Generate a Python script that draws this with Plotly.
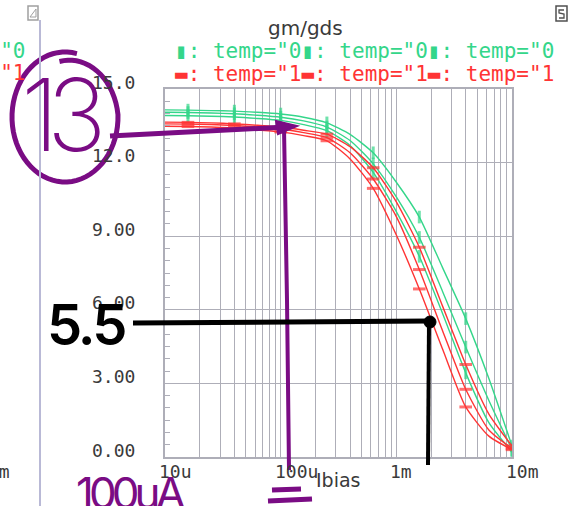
import math
import plotly.graph_objects as go

# ---- sweep data: gm/gds versus bias current, two temperatures x three corners ----
ibias = [10e-6, 15.8e-6, 25.1e-6, 39.8e-6, 63.1e-6, 100e-6, 158e-6, 251e-6,
         398e-6, 631e-6, 1.0e-3, 1.58e-3, 2.51e-3, 3.98e-3, 6.31e-3, 10e-3]

gm_gds_t0_a = [14.15, 14.14, 14.12, 14.10, 14.05, 13.98, 13.85, 13.62,
               13.15, 12.40, 11.20, 9.78, 7.72, 5.64, 3.20, 0.45]
gm_gds_t0_b = [14.05, 14.04, 14.02, 13.99, 13.93, 13.85, 13.70, 13.45,
               12.90, 11.95, 10.60, 8.95, 6.75, 4.48, 2.30, 0.30]
gm_gds_t0_c = [13.92, 13.91, 13.89, 13.86, 13.80, 13.72, 13.55, 13.30,
               12.70, 11.60, 10.00, 8.18, 5.85, 3.43, 1.40, 0.20]
gm_gds_t1_a = [13.65, 13.64, 13.62, 13.58, 13.52, 13.45, 13.32, 13.16,
               12.65, 11.79, 10.40, 8.55, 6.15, 3.77, 1.75, 0.45]
gm_gds_t1_b = [13.58, 13.57, 13.55, 13.51, 13.45, 13.38, 13.22, 13.02,
               12.40, 11.33, 9.80, 7.64, 5.15, 2.76, 1.10, 0.35]
gm_gds_t1_c = [13.48, 13.47, 13.45, 13.40, 13.33, 13.25, 13.10, 12.89,
               12.15, 10.95, 9.05, 6.85, 4.40, 2.04, 0.85, 0.30]

y_ticks = [0, 3, 6, 9, 12, 15]
y_tick_labels = ["0.00", "3.00", "6.00", "9.00", "12.0", "15.0"]
x_ticks = [10e-6, 100e-6, 1e-3, 10e-3]
x_tick_labels = ["10u", "100u", "1m", "10m"]

legend_row_t0 = '▮: temp="0▮: temp="0▮: temp="0'
legend_row_t1 = '▬: temp="1▬: temp="1▬: temp="1'

# ---- styling ----
W, H = 571, 506
L, R, T, B = 165, 512, 89, 457          # plot frame in page pixels
GREEN = "#34d68a"
RED = "#ff3434"
GRID = "#aeaeb8"
TXT = "#3a3a3a"
PURPLE = "#7a0c84"
MONO = "DejaVu Sans Mono"
SANS = "DejaVu Sans"
HAND = "Inter"


def px(x, y):
    """page pixel -> paper coordinates"""
    return (x - L) / (R - L), (B - y) / (B - T)


def poly(points, close=False):
    s = ""
    for i, (x, y) in enumerate(points):
        u, v = px(x, y)
        s += ("M" if i == 0 else "L") + f"{u:.5f},{v:.5f}"
    return s + ("Z" if close else "")


def squeezed(text, spacing):
    return f'<span style="letter-spacing:{spacing}px">{text}</span>'


fig = go.Figure()

marker_sizes = [9 if i % 2 else 0 for i in range(len(ibias))]
series = [
    (gm_gds_t0_a, GREEN, "line-ns"),
    (gm_gds_t0_b, GREEN, "line-ns"),
    (gm_gds_t0_c, GREEN, "line-ns"),
    (gm_gds_t1_a, RED, "line-ew"),
    (gm_gds_t1_b, RED, "line-ew"),
    (gm_gds_t1_c, RED, "line-ew"),
]
for vals, col, sym in series:
    fig.add_trace(go.Scatter(
        x=ibias, y=vals, mode="lines+markers", showlegend=False,
        line=dict(color=col, width=1.4, shape="spline", smoothing=0.6),
        marker=dict(symbol=sym, size=marker_sizes, color=col,
                    line=dict(color=col, width=3)),
    ))

ann = []
# y tick labels
for v, lab in zip(y_ticks, y_tick_labels):
    ann.append(dict(x=px(137, 0)[0], xref="paper", y=v, yref="y", text=lab,
                    showarrow=False, xanchor="right", yanchor="middle", yshift=7,
                    font=dict(family=MONO, size=18, color=TXT)))
# x tick labels (left aligned just before the tick)
for v, lab in zip(x_ticks, x_tick_labels):
    ann.append(dict(x=math.log10(v), xref="x", y=px(0, 471)[1], yref="paper",
                    text=lab, showarrow=False, xanchor="left", xshift=-8,
                    yanchor="middle", font=dict(family=MONO, size=18, color=TXT)))
# titles
ann.append(dict(x=px(305, 0)[0], y=px(0, 14)[1], xref="paper", yref="paper",
                text="gm/gds", showarrow=False, font=dict(family=SANS, size=20, color=TXT)))
ann.append(dict(x=px(338, 0)[0], y=px(0, 493)[1], xref="paper", yref="paper",
                text="Ibias", showarrow=False, font=dict(family=SANS, size=19, color=TXT)))
# legend rows
ann.append(dict(x=px(173, 0)[0], y=px(0, 51)[1], xref="paper", yref="paper",
                text=legend_row_t0, showarrow=False, xanchor="left", yanchor="middle",
                font=dict(family=MONO, size=21, color=GREEN)))
ann.append(dict(x=px(173, 0)[0], y=px(0, 74)[1], xref="paper", yref="paper",
                text=legend_row_t1, showarrow=False, xanchor="left", yanchor="middle",
                font=dict(family=MONO, size=21, color=RED)))
# neighbouring panel remnants on the left edge
ann.append(dict(x=px(28, 0)[0], y=px(0, 51)[1], xref="paper", yref="paper",
                text='temp="0', showarrow=False, xanchor="right", yanchor="middle",
                font=dict(family=MONO, size=21, color=GREEN)))
ann.append(dict(x=px(28, 0)[0], y=px(0, 73)[1], xref="paper", yref="paper",
                text='temp="1', showarrow=False, xanchor="right", yanchor="middle",
                font=dict(family=MONO, size=21, color=RED)))
ann.append(dict(x=px(12, 0)[0], y=px(0, 471)[1], xref="paper", yref="paper",
                text="10m", showarrow=False, xanchor="right", yanchor="middle",
                font=dict(family=MONO, size=18, color=TXT)))
# handwritten notes
ann.append(dict(x=px(60, 0)[0], y=px(0, 114)[1], xref="paper", yref="paper",
                text=squeezed("13", -12), showarrow=False, xanchor="center", yanchor="middle",
                font=dict(family=HAND, size=100, color=PURPLE, weight=200)))
ann.append(dict(x=px(86, 0)[0], y=px(0, 325)[1], xref="paper", yref="paper",
                text=squeezed("5.5", -3), showarrow=False, xanchor="center", yanchor="middle",
                font=dict(family=HAND, size=56, color="black", weight=600)))
ann.append(dict(x=px(74, 0)[0], y=px(0, 464)[1], xref="paper", yref="paper",
                text=squeezed("100uA", -5), showarrow=False, xanchor="left", yanchor="top",
                font=dict(family=HAND, size=44, color=PURPLE, weight=400)))

shapes = []
# circle around the 13 (drawn as a slightly overlapping loop)
cx, cy, rx, ry = 65, 117, 53, 65
loop = []
for k in range(73):
    t = k / 72.0
    th = math.radians(97 - 380 * t)
    r = 0.86 + 0.14 * min(1.0, t * 4)
    loop.append((cx + rx * r * math.cos(th), cy - ry * r * math.sin(th)))
shapes.append(dict(type="path", xref="paper", yref="paper", path=poly(loop),
                   line=dict(color=PURPLE, width=5)))
# purple pointer to the curve at 100u and drop line
shapes.append(dict(type="path", xref="paper", yref="paper",
                   path=poly([(110, 136), (286, 127)]), line=dict(color=PURPLE, width=5)))
shapes.append(dict(type="path", xref="paper", yref="paper",
                   path=poly([(276, 121), (297, 126), (278, 134)], close=True),
                   fillcolor=PURPLE, line=dict(color=PURPLE, width=2)))
shapes.append(dict(type="path", xref="paper", yref="paper",
                   path=poly([(284, 128), (287, 300), (289, 470)]), line=dict(color=PURPLE, width=4)))
shapes.append(dict(type="path", xref="paper", yref="paper",
                   path=poly([(272, 490), (301, 489)]), line=dict(color=PURPLE, width=5)))
shapes.append(dict(type="path", xref="paper", yref="paper",
                   path=poly([(268, 501), (312, 499)]), line=dict(color=PURPLE, width=5)))
# black marker line for the 5.5 reading
shapes.append(dict(type="path", xref="paper", yref="paper",
                   path=poly([(133, 323), (430, 321)]), line=dict(color="black", width=5)))
shapes.append(dict(type="path", xref="paper", yref="paper",
                   path=poly([(429, 322), (428, 465)]), line=dict(color="black", width=4)))
u0, v0 = px(424, 316)
u1, v1 = px(436, 328)
shapes.append(dict(type="circle", xref="paper", yref="paper", x0=u0, y0=v1, x1=u1, y1=v0,
                   fillcolor="black", line=dict(color="black", width=1)))
# window chrome: divider and the two corner icons
shapes.append(dict(type="path", xref="paper", yref="paper",
                   path=poly([(40, 20), (40, 506)]), line=dict(color="#b9b9d6", width=2)))
for (x0, y0, x1, y1, c) in [(28, 6, 38, 20, "#a0a0a0"), (556, 6, 567, 21, "#505050")]:
    a0, b0 = px(x0, y1)
    a1, b1 = px(x1, y0)
    shapes.append(dict(type="rect", xref="paper", yref="paper", x0=a0, y0=b0, x1=a1, y1=b1,
                       line=dict(color=c, width=1.5)))
shapes.append(dict(type="path", xref="paper", yref="paper",
                   path=poly([(30, 17), (36, 9), (36, 17), (30, 17)]), line=dict(color="#a0a0a0", width=1)))
shapes.append(dict(type="path", xref="paper", yref="paper",
                   path=poly([(564, 10), (559, 10), (559, 13), (564, 14), (564, 18), (559, 18)]),
                   line=dict(color="#505050", width=1.3)))

fig.update_layout(
    width=W, height=H,
    margin=dict(l=L, r=W - R, t=T, b=H - B, pad=0),
    paper_bgcolor="white", plot_bgcolor="white",
    annotations=ann, shapes=shapes, showlegend=False,
    xaxis=dict(type="log", range=[-5, -2], dtick="D1", showticklabels=False, ticks="",
               showgrid=True, gridcolor=GRID, gridwidth=1.3, zeroline=False,
               showline=True, linecolor=GRID, linewidth=1.5, mirror=True),
    yaxis=dict(range=[0, 15], dtick=3, tick0=0, showticklabels=False, ticks="",
               showgrid=True, gridcolor=GRID, gridwidth=1.3, zeroline=False,
               showline=True, linecolor=GRID, linewidth=1.5, mirror=True,
               minor=dict(dtick=0.5, ticks="inside", ticklen=5, tickcolor=GRID,
                          tickwidth=1, showgrid=False)),
)

fig.write_html("out.html")
